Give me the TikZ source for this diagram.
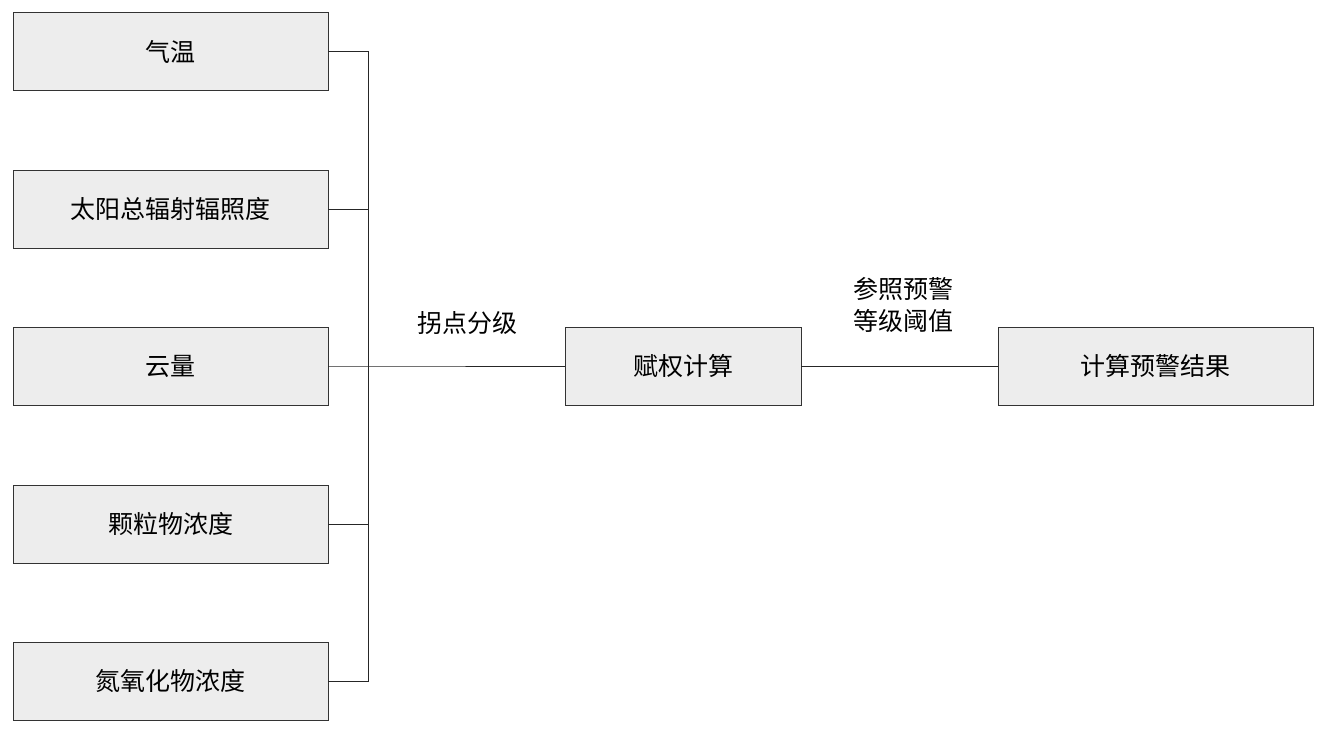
\documentclass[tikz,border=0pt]{standalone}
\usepackage{fontspec}
\setmainfont{Noto Sans CJK SC}
\begin{document}
\begin{tikzpicture}[x=1pt,y=-1pt,
  box/.style={draw=black!80,fill=black!7,line width=0.8pt,minimum height=78pt,inner sep=0pt,font=\fontsize{25}{30}\selectfont},
  lbl/.style={font=\fontsize{25}{32}\selectfont,align=center},
  ln/.style={line width=0.8pt,draw=black!85}]
\useasboundingbox (0,0) rectangle (1328,734);
\node[box,minimum width=315pt] (a) at (170.5,51.5) {气温};
\node[box,minimum width=315pt] (b) at (170.5,209) {太阳总辐射辐照度};
\node[box,minimum width=315pt] (c) at (170.5,366) {云量};
\node[box,minimum width=315pt] (d) at (170.5,524) {颗粒物浓度};
\node[box,minimum width=315pt] (e) at (170.5,681) {氮氧化物浓度};
\node[box,minimum width=236pt] (f) at (683,366) {赋权计算};
\node[box,minimum width=315pt] (g) at (1155.5,366) {计算预警结果};
\coordinate (top) at (368,51.5);
\coordinate (bot) at (368,681);
\coordinate (mid) at (368,366);
\draw[ln] (a.east) -- (top) -- (bot) -- (e.east);
\draw[ln] (b.east) -- (368,209);
\draw[ln] (c.east) -- (mid) -- (f.west);
\draw[ln] (d.east) -- (368,524);
\draw[ln] (f.east) -- (g.west);
\node[lbl] (l1) at (467,323) {拐点分级};
\node[lbl] (l2) at (903,305) {参照预警\\等级阈值};
\end{tikzpicture}
\end{document}
